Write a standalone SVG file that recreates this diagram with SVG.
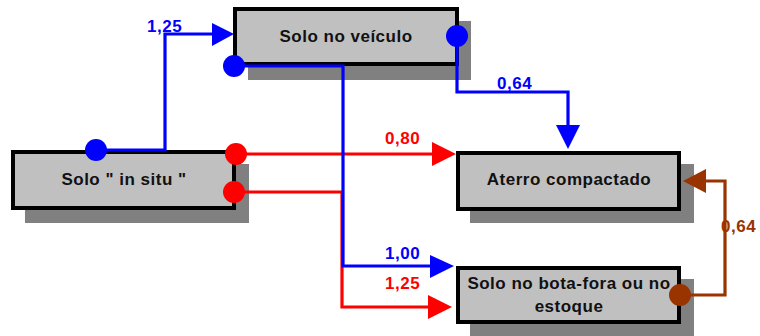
<svg xmlns="http://www.w3.org/2000/svg" width="760" height="336" viewBox="0 0 760 336">
<style>
.shadow{fill:#808080}
.box{fill:#c0c0c0;stroke:#000;stroke-width:4}
.t{font-family:"Liberation Sans",Arial,sans-serif;font-weight:bold;font-size:17px;letter-spacing:0.5px;fill:#111;text-anchor:middle}
.lbl{font-family:"Liberation Sans",Arial,sans-serif;font-weight:bold;font-size:17px;letter-spacing:0.5px}
.ln{fill:none;stroke-width:3.2}
.b{stroke:#0000ff}.r{stroke:#ff0000}.o{stroke:#993300}
</style>
<rect width="760" height="336" fill="#fff"/>
<g id="n-veiculo">
<rect class="shadow" x="248" y="21" width="223" height="59"/>
<rect class="box" x="235" y="9" width="222" height="55"/>
<text class="t" x="346" y="42">Solo no veículo</text>
</g>
<g id="n-insitu">
<rect class="shadow" x="25" y="164" width="224" height="59"/>
<rect class="box" x="13" y="152" width="221" height="56"/>
<text class="t" x="124" y="185">Solo " in situ "</text>
</g>
<g id="n-aterro">
<rect class="shadow" x="470" y="164" width="224" height="59"/>
<rect class="box" x="458" y="153" width="221" height="56"/>
<text class="t" x="569" y="185">Aterro compactado</text>
</g>
<g id="n-bota">
<rect class="shadow" x="470" y="279" width="224" height="57"/>
<rect class="box" x="458" y="268" width="221" height="54"/>
<text class="t" x="569" y="289">Solo no bota-fora ou no</text>
<text class="t" x="569" y="312">estoque</text>
</g>
<g id="connectors">
<!-- red -->
<path class="ln r" d="M236 154 H433"/>
<polygon fill="#ff0000" points="432,142 456,154 432,166"/>
<path class="ln r" d="M234 192 H342 V307 H429"/>
<polygon fill="#ff0000" points="428,295 452,307 428,319"/>
<circle cx="236" cy="154" r="11" fill="#ff0000"/>
<circle cx="234" cy="192" r="11" fill="#ff0000"/>
<!-- blue -->
<path class="ln b" d="M96 150 H165 V34 H213"/>
<polygon fill="#0000ff" points="212,23 234,34 212,46"/>
<path class="ln b" d="M234 66 H343 V266 H431"/>
<polygon fill="#0000ff" points="430,255 454,266 430,278"/>
<path class="ln b" d="M457 36 V92 H568 V126"/>
<polygon fill="#0000ff" points="556,125 568,149 580,125"/>
<circle cx="96" cy="150" r="11" fill="#0000ff"/>
<circle cx="234" cy="66" r="11" fill="#0000ff"/>
<circle cx="457" cy="36" r="11" fill="#0000ff"/>
<!-- brown -->
<text class="lbl" x="721" y="232" fill="#993300">0,64</text>
<path class="ln o" d="M680 295 H725 V181 H705"/>
<polygon fill="#993300" points="706,169 683,181 706,193"/>
<circle cx="680" cy="295" r="11" fill="#993300"/>
<!-- labels -->
<text class="lbl" x="147" y="32" fill="#0000ff">1,25</text>
<text class="lbl" x="497" y="89" fill="#0000ff">0,64</text>
<text class="lbl" x="385" y="144" fill="#ff0000">0,80</text>
<text class="lbl" x="385" y="259" fill="#0000ff">1,00</text>
<text class="lbl" x="385" y="289" fill="#ff0000">1,25</text>
</g>
</svg>
